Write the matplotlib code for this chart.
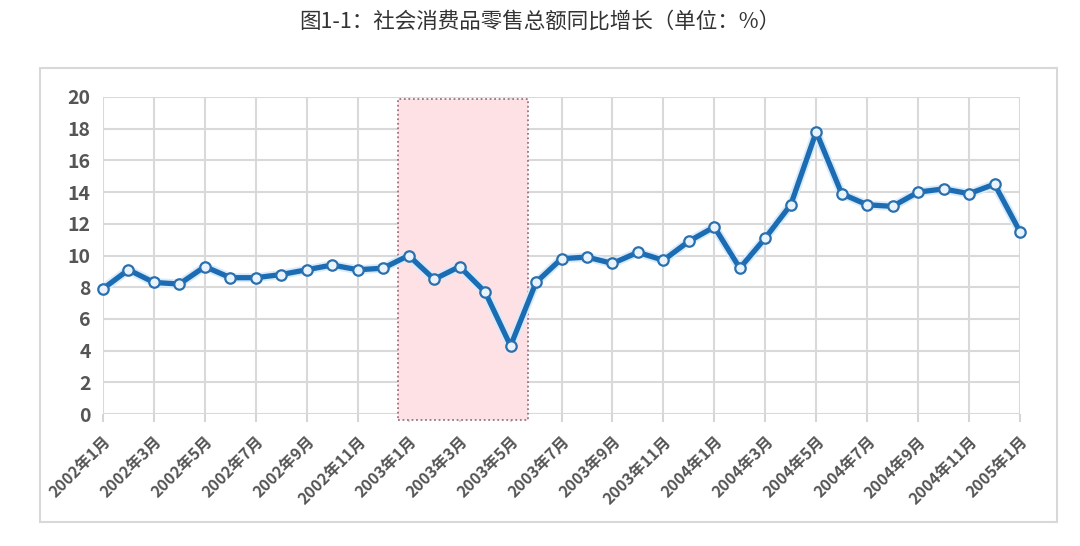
import matplotlib.pyplot as plt
from matplotlib.patches import Rectangle

plt.rcParams['font.family'] = ['Noto Sans CJK SC', 'DejaVu Sans']

# 月度数据 2002年1月 - 2005年1月
months = list(range(37))
growth = [7.9, 9.1, 8.3, 8.2, 9.3, 8.6, 8.6, 8.8, 9.1, 9.4, 9.1, 9.2,
          10.0, 8.5, 9.3, 7.7, 4.3, 8.3, 9.8, 9.9, 9.5, 10.2, 9.7, 10.9,
          11.8, 9.2, 11.1, 13.2, 17.8, 13.9, 13.2, 13.1, 14.0, 14.2, 13.9, 14.5,
          11.5]
tick_pos = list(range(0, 37, 2))
tick_labels = ["2002年1月", "2002年3月", "2002年5月", "2002年7月", "2002年9月", "2002年11月",
               "2003年1月", "2003年3月", "2003年5月", "2003年7月", "2003年9月", "2003年11月",
               "2004年1月", "2004年3月", "2004年5月", "2004年7月", "2004年9月", "2004年11月",
               "2005年1月"]
yticks = list(range(0, 21, 2))
# 非典时期 (阴影区)
sars_start, sars_end = 11.6, 16.7

fig = plt.figure(figsize=(10.8, 5.46), dpi=100)
fig.patch.set_facecolor("white")

# 外框
fig.patches.append(Rectangle((40/1080, 1-522/546), 1017/1080, 454/546,
                             transform=fig.transFigure, fill=False,
                             edgecolor="#d8d8d8", linewidth=1.5))

fig.text(0.5, 1-22/546, "图1-1：社会消费品零售总额同比增长（单位：%）",
         ha="center", va="center", fontsize=15.5, color="#333333")

ax = fig.add_axes([103/1080, 1-414/546, 917/1080, 317/546])
ax.set_xlim(0, 36)
ax.set_ylim(0, 20)

ax.add_patch(Rectangle((sars_start, -0.4), sars_end-sars_start, 20.3,
                       facecolor="#fde1e5", edgecolor="#a07080", linestyle=(0, (1, 1.5)),
                       linewidth=1.3, clip_on=False, zorder=1))

ax.set_xticks(tick_pos)
ax.set_xticklabels(tick_labels, rotation=45, ha="right", va="top",
                   rotation_mode="anchor", fontsize=11.5, fontweight="bold", color="#555555")
ax.set_yticks(yticks)
ax.set_yticklabels([str(v) for v in yticks], fontsize=14, fontweight="bold", color="#555555")
ax.tick_params(axis="x", length=6, color="#d5d5d5", width=1.5, pad=8)
ax.tick_params(axis="y", length=0, pad=9)

ax.grid(True, color="#d9d9d9", linewidth=1.5, zorder=0)
ax.set_axisbelow(True)
for s in ax.spines.values():
    s.set_visible(False)

ax.plot(months, growth, color="#d8ebfc", linewidth=6.5, zorder=3, clip_on=False,
        solid_capstyle="round", solid_joinstyle="round")
ax.plot(months, growth, color="#1c6cb3", linewidth=3.8, zorder=4, clip_on=False,
        marker="o", markersize=7.5, markerfacecolor="#e8f3fd",
        markeredgecolor="#2a6fae", markeredgewidth=1.6,
        solid_joinstyle="round")

fig.savefig("out.png", dpi=100)
